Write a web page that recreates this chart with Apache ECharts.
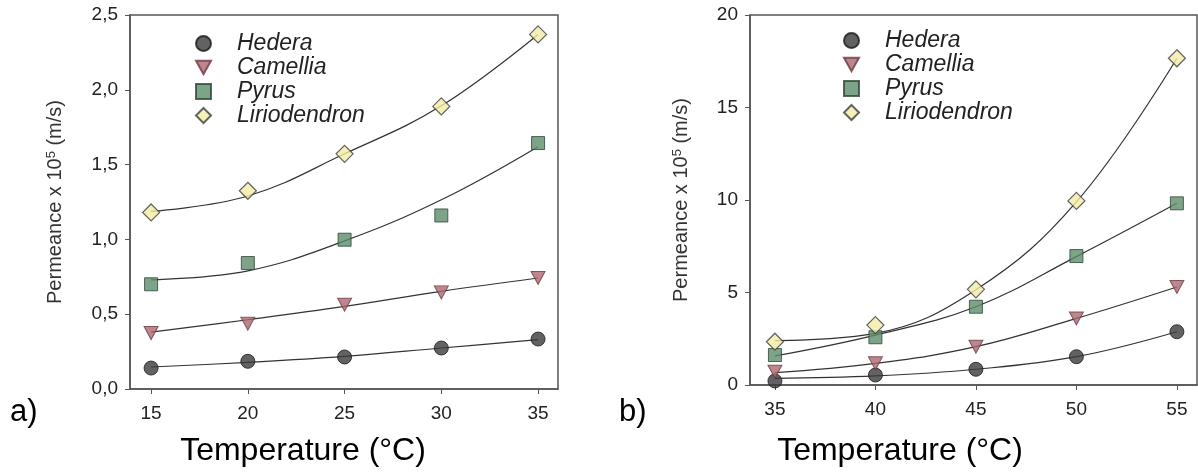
<!DOCTYPE html>
<html><head><meta charset="utf-8">
<script src="https://cdn.jsdelivr.net/npm/echarts@6/dist/echarts.min.js"></script>
<style>html,body{margin:0;padding:0;background:#fff}#c{width:1198px;height:472px}</style>
</head><body><div id="c"></div>
<script>
// ---- data ----
const seriesNames = ['Hedera', 'Camellia', 'Pyrus', 'Liriodendron'];

// panel a
const tempA = [15, 20, 25, 30, 35];
const hederaA = [0.14, 0.185, 0.214, 0.274, 0.334];
const camelliaA = [0.374, 0.437, 0.563, 0.646, 0.742];
const pyrusA = [0.70, 0.842, 0.998, 1.16, 1.644];
const lirioA = [1.18, 1.325, 1.572, 1.889, 2.37];
// fitted curves
const fitHederaA = [0.147, 0.178, 0.218, 0.274, 0.33];
const fitCamelliaA = [0.38, 0.463, 0.552, 0.653, 0.742];
const fitPyrusA = [0.73, 0.79, 0.99, 1.265, 1.62];
const fitLirioA = [1.187, 1.29, 1.572, 1.893, 2.37];
const xTicksA = [15, 20, 25, 30, 35];
const yLabelsA = ['0,0', '0,5', '1,0', '1,5', '2,0', '2,5'];

// panel b
const tempB = [35, 40, 45, 50, 55];
const hederaB = [0.22, 0.54, 0.85, 1.53, 2.88];
const camelliaB = [0.72, 1.17, 2.07, 3.6, 5.3];
const pyrusB = [1.62, 2.58, 4.23, 6.97, 9.82];
const lirioB = [2.34, 3.24, 5.17, 9.95, 17.66];
const fitHederaB = [0.36, 0.49, 0.85, 1.53, 2.88];
const fitCamelliaB = [0.67, 1.17, 2.07, 3.6, 5.3];
const fitPyrusB = [1.57, 2.7, 4.23, 6.94, 9.82];
const fitLirioB = [2.40, 2.79, 5.15, 9.9, 17.66];
const xTicksB = [35, 40, 45, 50, 55];
const yLabelsB = ['0', '5', '10', '15', '20'];

// ---- styles ----
const FONT = 'Liberation Sans, Arial, sans-serif';
const markerStyles = [
  { symbol: 'circle', symbolSize: 14, itemStyle: { color: '#3b3b3e', borderColor: '#1a1a1a', borderWidth: 1 } },
  { symbol: 'path://M0,0 L10,0 L5,9 Z', symbolSize: [14, 13], itemStyle: { color: '#ad6670', borderColor: '#6a3a40', borderWidth: 1 } },
  { symbol: 'rect', symbolSize: 13, itemStyle: { color: '#5d8c6a', borderColor: '#2d4633', borderWidth: 1 } },
  { symbol: 'diamond', symbolSize: 17, itemStyle: { color: '#f3eba6', borderColor: '#3d3d3d', borderWidth: 1.2 } }
];

function pairs(xs, ys) { return xs.map((x, i) => [x, ys[i]]); }

const seriesList = [];
function addPanel(idx, xs, pts, fits) {
  fits.forEach((f, k) => {
    seriesList.push({
      name: 'fit' + idx + k, type: 'line', xAxisIndex: idx, yAxisIndex: idx,
      data: pairs(xs, f), smooth: 0.4, showSymbol: false, silent: true,
      lineStyle: { color: '#333', width: 1.2 }, z: 2
    });
  });
  pts.forEach((p, k) => {
    seriesList.push(Object.assign({
      name: seriesNames[k], type: 'scatter', xAxisIndex: idx, yAxisIndex: idx,
      data: pairs(xs, p), z: 3
    }, markerStyles[k]));
  });
}
addPanel(0, tempA, [hederaA, camelliaA, pyrusA, lirioA], [fitHederaA, fitCamelliaA, fitPyrusA, fitLirioA]);
addPanel(1, tempB, [hederaB, camelliaB, pyrusB, lirioB], [fitHederaB, fitCamelliaB, fitPyrusB, fitLirioB]);

const axisLineStyle = { show: true, lineStyle: { color: '#555', width: 1.5 } };
const tickLabel = { color: '#222', fontFamily: FONT, fontSize: 19 };

function xAxis(idx, min, max, ticks) {
  return {
    type: 'value', gridIndex: idx, min: min, max: max,
    axisLine: axisLineStyle,
    axisTick: { show: true, length: 5, customValues: ticks, lineStyle: { color: '#555' } },
    axisLabel: Object.assign({ customValues: ticks, margin: 15 }, tickLabel),
    splitLine: { show: false }
  };
}
function yAxis(idx, max, interval, labels, nameGap) {
  return {
    type: 'value', gridIndex: idx, min: 0, max: max, interval: interval,
    axisLine: axisLineStyle,
    axisTick: { show: true, length: 5, lineStyle: { color: '#555' } },
    axisLabel: Object.assign({ margin: 12, formatter: v => labels[Math.round(v / interval)] }, tickLabel),
    splitLine: { show: false },
    name: 'Permeance x 10{sup|5} (m/s)', nameLocation: 'middle', nameGap: nameGap, nameRotate: 90,
    nameTextStyle: {
      color: '#333', fontFamily: FONT, fontSize: 20,
      rich: { sup: { fontSize: 13, verticalAlign: 'top', color: '#333', fontFamily: FONT, padding: [0, 0, 8, 0] } }
    }
  };
}

const legendBase = {
  orient: 'vertical', data: seriesNames, itemWidth: 15, itemHeight: 15, itemGap: 1,
  textStyle: { fontFamily: FONT, fontSize: 23, fontStyle: 'italic', color: '#222', padding: [0, 0, 0, 21] },
  selectedMode: false
};

const option = {
  animation: false,
  backgroundColor: '#fff',
  grid: [
    { left: 130, top: 15, width: 428, height: 374, show: true, borderColor: '#555', borderWidth: 1.5 },
    { left: 750, top: 15, width: 447, height: 370, show: true, borderColor: '#555', borderWidth: 1.5 }
  ],
  xAxis: [xAxis(0, 13.91, 36.03, xTicksA), xAxis(1, 33.76, 56, xTicksB)],
  yAxis: [yAxis(0, 2.5, 0.5, yLabelsA, 64), yAxis(1, 20, 5, yLabelsB, 58)],
  legend: [
    Object.assign({ left: 190, top: 27 }, legendBase),
    Object.assign({ left: 838, top: 24 }, legendBase)
  ],
  graphic: [
    { type: 'text', left: 10, top: 397, style: { text: 'a)', font: '31px ' + FONT, fill: '#000' } },
    { type: 'text', left: 619, top: 397, style: { text: 'b)', font: '31px ' + FONT, fill: '#000' } },
    { type: 'text', x: 303, y: 435, style: { text: 'Temperature (°C)', font: '32px ' + FONT, fill: '#000', align: 'center', verticalAlign: 'top' } },
    { type: 'text', x: 900, y: 435, style: { text: 'Temperature (°C)', font: '32px ' + FONT, fill: '#000', align: 'center', verticalAlign: 'top' } }
  ],
  series: seriesList
};
const chart = echarts.init(document.getElementById('c'), null, { renderer: 'canvas' });
chart.setOption(option);
</script>
</body></html>
